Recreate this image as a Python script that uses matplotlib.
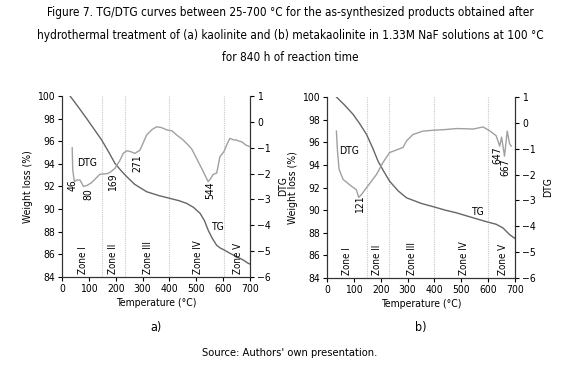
import matplotlib
matplotlib.use("Agg")
import matplotlib.pyplot as plt
from matplotlib import font_manager

# look for a condensed face
cond = [f for f in font_manager.fontManager.ttflist if f.stretch in ("condensed", "semi-condensed", "extra-condensed", 500 - 100) or "Narrow" in f.name or "Condensed" in f.name]
FONT = "DejaVu Sans"
STRETCH = "normal"
for f in cond:
    if f.style == "normal":
        FONT = f.name
        STRETCH = f.stretch
        break
plt.rcParams['font.family'] = [FONT, 'DejaVu Sans']
plt.rcParams['font.stretch'] = STRETCH

# ---------------- data ----------------
zones = ["Zone I", "Zone II", "Zone III", "Zone IV", "Zone V"]
zone_bounds_a = [150, 235, 400, 603]
zone_bounds_b = [150, 230, 400, 598]
zone_label_x_a = [78, 190, 320, 506, 655]
zone_label_x_b = [75, 185, 315, 510, 655]

tg_a_T = [30, 60, 92, 120, 148, 175, 197, 220, 241, 270, 315, 360, 402, 435, 464, 490, 514, 530, 545, 560, 576, 590, 603, 625, 650, 675, 694, 700]
tg_a_W = [100.0, 99.05, 98.0, 97.05, 96.1, 95.0, 94.05, 93.4, 92.87, 92.2, 91.54, 91.2, 90.95, 90.75, 90.51, 90.15, 89.63, 89.0, 88.1, 87.4, 86.8, 86.55, 86.4, 86.1, 85.8, 85.5, 85.2, 85.15]

dtg_a_T = [38, 40, 46, 55, 67, 80, 95, 110, 141, 169, 179, 197, 215, 228, 241, 255, 271, 290,
           315, 335, 352, 370, 390, 410, 427, 445, 464, 483, 501, 520, 532, 544, 553, 563, 576,
           588, 603, 615, 625, 640, 650, 660, 669, 685, 700]
dtg_a_V = [-1.0, -1.86, -2.31, -2.25, -2.25, -2.5, -2.45, -2.35, -2.03, -2.0, -1.95, -1.8, -1.5, -1.22,
           -1.12, -1.15, -1.22, -1.1, -0.51, -0.3, -0.19, -0.22, -0.31, -0.35, -0.51, -0.65, -0.83, -1.05,
           -1.41, -1.8, -2.05, -2.31, -2.2, -2.03, -1.98, -1.35, -1.15, -0.85, -0.64, -0.7, -0.7, -0.75,
           -0.77, -0.9, -0.96]

tg_b_T = [35, 65, 97, 120, 147, 170, 190, 212, 233, 265, 296, 350, 402, 440, 482, 540, 596, 630, 655, 680, 700]
tg_b_W = [100.0, 99.3, 98.47, 97.7, 96.7, 95.5, 94.33, 93.4, 92.56, 91.7, 91.09, 90.6, 90.26, 90.0, 89.76, 89.35, 88.96, 88.75, 88.43, 87.83, 87.5]

dtg_b_T = [35, 39, 45, 60, 91, 109, 118, 121, 130, 147, 184, 208, 233, 258, 283, 296, 320, 357,
           402, 440, 482, 520, 544, 581, 605, 630, 643, 650, 661, 671, 680, 686]
dtg_b_V = [-0.32, -1.09, -1.8, -2.19, -2.45, -2.58, -2.88, -2.85, -2.75, -2.51, -2.0, -1.54, -1.15,
           -1.05, -0.95, -0.7, -0.45, -0.32, -0.28, -0.26, -0.22, -0.23, -0.24, -0.16, -0.3, -0.5,
           -0.9, -0.55, -1.29, -0.32, -0.81, -0.9]

peaks_a = [("46", 41, 92.1), ("80", 97, 91.3), ("169", 190, 92.4), ("271", 279, 94.1), ("544", 551, 91.7)]
peaks_b = [("121", 122, 90.5), ("647", 633, 94.9), ("667", 665, 93.8)]

title = ("Figure 7. TG/DTG curves between 25-700 °C for the as-synthesized products obtained after\n"
         "hydrothermal treatment of (a) kaolinite and (b) metakaolinite in 1.33M NaF solutions at 100 °C\n"
         "for 840 h of reaction time")

TG_COLOR = "#666666"
DTG_COLOR = "#a0a0a0"

W, H = 580, 367
fig = plt.figure(figsize=(W / 100, H / 100), dpi=100)


def panel(rect, tg_T, tg_W, dtg_T, dtg_V, bounds, zlx, peaks, dtg_xy, tg_xy, letter):
    ax = fig.add_axes(rect)
    ax.set_xlim(0, 700)
    ax.set_ylim(84, 100)
    ax.set_xticks(range(0, 701, 100))
    ax.set_yticks(range(84, 101, 2))
    for b in bounds:
        ax.axvline(b, color="#c8c8c8", lw=0.8, ls=(0, (1, 1)), zorder=0)
    ax.plot(tg_T, tg_W, color=TG_COLOR, lw=1.0)
    for z, x in zip(zones, zlx):
        ax.text(x, 84.3, z, rotation=90, ha="center", va="bottom", fontsize=7)
    for s, x, y in peaks:
        ax.text(x, y, s, rotation=90, ha="center", va="center", fontsize=7.5)
    ax.text(dtg_xy[0], dtg_xy[1], "DTG", ha="center", va="center", fontsize=7.5)
    ax.text(tg_xy[0], tg_xy[1], "TG", ha="center", va="center", fontsize=7.5)
    ax.set_xlabel("Temperature (°C)", fontsize=7.5, labelpad=3)
    ax.set_ylabel("Weight loss (%)", fontsize=7.5, labelpad=3)
    ax.spines["top"].set_visible(False)
    ax.tick_params(labelsize=7.5, length=3, width=0.8, pad=2)
    ax2 = ax.twinx()
    ax2.set_ylim(-6, 1)
    ax2.set_yticks(range(-6, 2))
    ax2.plot(dtg_T, dtg_V, color=DTG_COLOR, lw=1.0)
    ax2.spines["top"].set_visible(False)
    ax2.tick_params(labelsize=7.5, length=3, width=0.8, pad=2)
    ax2.set_ylabel("DTG", fontsize=7.5, labelpad=5)
    for a in (ax, ax2):
        for sp in a.spines.values():
            sp.set_color("#333333")
            sp.set_linewidth(0.8)
    x_center = rect[0] + rect[2] / 2
    fig.text(x_center, 1 - 328 / H, letter, ha="center", va="center", fontsize=9)


panel([62 / W, 1 - 277 / H, 188 / W, 181 / H], tg_a_T, tg_a_W, dtg_a_T, dtg_a_V,
      zone_bounds_a, zone_label_x_a, peaks_a, (93, 94.1), (577, 88.4), "a)")
panel([327 / W, 1 - 278 / H, 188 / W, 181 / H], tg_b_T, tg_b_W, dtg_b_T, dtg_b_V,
      zone_bounds_b, zone_label_x_b, peaks_b, (84, 95.2), (561, 89.8), "b)")

fig.text(0.5, 1 - 35 / H, title, ha="center", va="center", fontsize=8.5, linespacing=1.95)
fig.text(0.5, 1 - 353 / H, "Source: Authors' own presentation.", ha="center", va="center", fontsize=8)

fig.savefig("out.png", dpi=100)
